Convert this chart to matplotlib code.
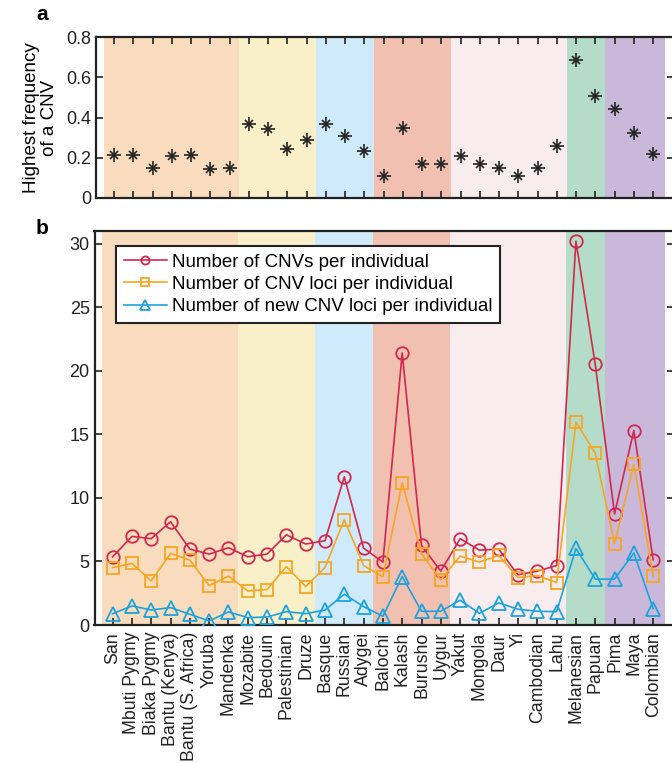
import matplotlib
matplotlib.use('Agg')
import matplotlib.pyplot as plt
import numpy as np

# Populations, in plotting order
populations = ['San', 'Mbuti Pygmy', 'Biaka Pygmy', 'Bantu (Kenya)', 'Bantu (S. Africa)',
               'Yoruba', 'Mandenka', 'Mozabite', 'Bedouin', 'Palestinian', 'Druze',
               'Basque', 'Russian', 'Adygei', 'Balochi', 'Kalash', 'Burusho', 'Uygur',
               'Yakut', 'Mongola', 'Daur', 'Yi', 'Cambodian', 'Lahu', 'Melanesian',
               'Papuan', 'Pima', 'Maya', 'Colombian']

# Number of populations in each region (Africa, Middle East, Europe,
# Central/South Asia, East Asia, Oceania, America)
region_sizes = [7, 4, 3, 4, 6, 2, 3]
region_colors = ['#F9DCBD', '#F9F0C9', '#CFEAFA', '#F1C0B1', '#F9ECEE', '#B5DCC8', '#C9B8DA']

# Panel a: highest frequency of a CNV
highest_freq = [0.214, 0.214, 0.148, 0.209, 0.214, 0.143, 0.151, 0.369, 0.342, 0.243,
                0.289, 0.369, 0.309, 0.236, 0.111, 0.350, 0.171, 0.171, 0.211, 0.171,
                0.150, 0.111, 0.150, 0.256, 0.688, 0.508, 0.444, 0.323, 0.218]

# Panel b
cnvs_per_ind = [5.37, 6.97, 6.79, 8.13, 5.97, 5.58, 6.08, 5.37, 5.58, 7.10, 6.37,
                6.63, 11.66, 6.05, 4.95, 21.4, 6.26, 4.24, 6.79, 5.89, 5.97, 3.95,
                4.24, 4.68, 30.2, 20.5, 8.74, 15.3, 5.13]
loci_per_ind = [4.52, 4.84, 3.47, 5.63, 5.10, 3.10, 3.84, 2.68, 2.79, 4.60, 3.02,
                4.52, 8.29, 4.68, 3.79, 11.18, 5.60, 3.55, 5.42, 4.95, 5.47, 3.73,
                3.89, 3.34, 15.97, 13.52, 6.39, 12.63, 3.87]
new_loci_per_ind = [0.89, 1.50, 1.18, 1.37, 0.84, 0.32, 1.03, 0.58, 0.63, 1.05, 0.89,
                    1.18, 2.42, 1.45, 0.69, 3.81, 1.08, 1.08, 1.95, 0.92, 1.74, 1.24,
                    1.08, 1.05, 6.02, 3.61, 3.61, 5.66, 1.29]

plt.rcParams['font.family'] = ['Liberation Sans', 'DejaVu Sans']

x = np.arange(len(populations))
xlim = (-0.94, 29.08)

fig = plt.figure(figsize=(6.72, 7.63), dpi=100)
ax_a = fig.add_axes([96 / 672, 1 - 198 / 763, (674 - 96) / 672, (198 - 37) / 763])
ax_b = fig.add_axes([94.5 / 672, 1 - 625 / 763, (674 - 94.5) / 672, (625 - 231) / 763])


def shade_regions(ax):
    start = -0.55
    pos = 0
    for i, (n, c) in enumerate(zip(region_sizes, region_colors)):
        end = pos + n - 0.5 if i < len(region_sizes) - 1 else 28.6
        ax.axvspan(start, end, color=c, lw=0, zorder=0)
        start = end
        pos += n


def style_axes(ax):
    for s in ax.spines.values():
        s.set_linewidth(1.6)
        s.set_color('#222222')
    ax.tick_params(axis='both', direction='in', length=5, width=1.2,
                   labelsize=13, colors='#222222')


# ---- Panel a ----
shade_regions(ax_a)
ax_a.plot(x, highest_freq, linestyle='none', marker='+', markersize=10,
          markeredgewidth=1.2, color='#222222', zorder=3)
ax_a.plot(x, highest_freq, linestyle='none', marker='x', markersize=5.5,
          markeredgewidth=1.2, color='#222222', zorder=3)
ax_a.set_xlim(*xlim)
ax_a.set_ylim(0, 0.8)
ax_a.set_xticks(x)
ax_a.set_xticklabels([])
ax_a.set_yticks([0, 0.2, 0.4, 0.6, 0.8])
ax_a.set_yticklabels(['0', '0.2', '0.4', '0.6', '0.8'])
ax_a.tick_params(top=True, right=True)
style_axes(ax_a)
ax_a.set_ylabel('Highest frequency\nof a CNV', fontsize=13.5, labelpad=6,
                linespacing=1.05)

# ---- Panel b ----
shade_regions(ax_b)
ax_b.plot(x, cnvs_per_ind, color='#D1284E', lw=1.2, marker='o', markersize=9,
          markerfacecolor='none', markeredgewidth=1.3,
          label='Number of CNVs per individual', zorder=3)
ax_b.plot(x, loci_per_ind, color='#F5A623', lw=1.2, marker='s', markersize=8.5,
          markerfacecolor='none', markeredgewidth=1.3,
          label='Number of CNV loci per individual', zorder=3)
ax_b.plot(x, new_loci_per_ind, color='#1CA3DD', lw=1.2, marker='^', markersize=10,
          markerfacecolor='none', markeredgewidth=1.3,
          label='Number of new CNV loci per individual', zorder=3)
ax_b.set_xlim(*xlim)
ax_b.set_ylim(0, 31)
ax_b.set_xticks(x)
ax_b.set_yticks([0, 5, 10, 15, 20, 25, 30])
ax_b.tick_params(right=True)
style_axes(ax_b)
ax_b.set_xticklabels(populations, rotation=90, fontsize=12.8)
ax_b.tick_params(axis='x', pad=5)

leg = ax_b.legend(loc='upper left', bbox_to_anchor=(0.037, 0.963), borderaxespad=0,
                  fontsize=13.5, fancybox=False, framealpha=1, edgecolor='#222222',
                  markerscale=0.65, handlelength=2.3, handletextpad=0.27,
                  labelspacing=0.28, borderpad=0.42)
leg.get_frame().set_linewidth(1.5)

# Panel letters
fig.text(36 / 672, 1 - 15 / 763, 'a', fontsize=15, fontweight='bold', va='center')
fig.text(36 / 672, 1 - 228 / 763, 'b', fontsize=15, fontweight='bold', va='center')

plt.savefig('out.png', dpi=100)
plt.close()
